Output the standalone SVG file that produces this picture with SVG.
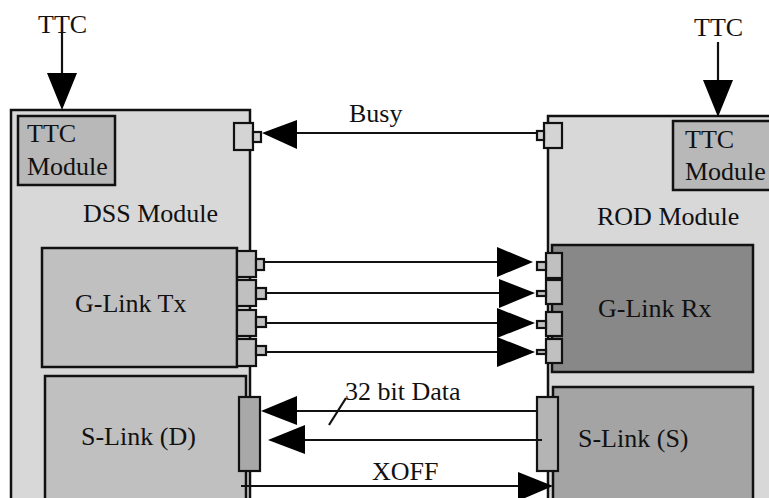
<svg xmlns="http://www.w3.org/2000/svg" width="769" height="498" viewBox="0 0 769 498">
  <style>
    .box { stroke: #111; stroke-width: 2.5; }
    .port { stroke: #111; stroke-width: 2.2; }
    .lbl { font-family: "Liberation Serif", "Times New Roman", serif; font-size: 26px; fill: #111; }
    .wire { stroke: #111; stroke-width: 2.2; fill: none; }
    .head { fill: #000; stroke: none; }
  </style>

  <rect width="769" height="498" fill="#fff"/>

  <!-- DSS crate and its contents -->
  <g id="dss-module">
    <rect class="box" x="11" y="110" width="239" height="400" fill="#d8d8d8"/>
    <text class="lbl" x="83" y="222">DSS Module</text>
  </g>
  <g id="dss-ttc">
    <rect class="box" x="18" y="116" width="97" height="69" fill="#b8b8b8"/>
    <text class="lbl" x="27" y="142">TTC</text>
    <text class="lbl" x="27" y="175">Module</text>
  </g>
  <g id="dss-busy-port">
    <rect class="port" x="234" y="123" width="19" height="27" fill="#d4d4d4"/>
    <rect class="port" x="253" y="132" width="8" height="10" fill="#d4d4d4"/>
  </g>
  <g id="glink-tx">
    <rect class="box" x="42" y="248" width="195" height="119" fill="#c0c0c0"/>
    <text class="lbl" x="75" y="312">G-Link Tx</text>
    <g fill="#c0c0c0">
      <rect class="port" x="237" y="251" width="19" height="26"/>
      <rect class="port" x="256" y="259" width="8" height="11"/>
      <rect class="port" x="237" y="280" width="19" height="26"/>
      <rect class="port" x="256" y="288" width="10" height="11"/>
      <rect class="port" x="237" y="310" width="19" height="26"/>
      <rect class="port" x="256" y="317" width="10" height="10"/>
      <rect class="port" x="237" y="339" width="19" height="27"/>
      <rect class="port" x="256" y="346" width="10" height="9"/>
    </g>
  </g>
  <g id="slink-d">
    <rect class="box" x="45" y="376" width="201" height="140" fill="#c0c0c0"/>
    <text class="lbl" x="81" y="445">S-Link (D)</text>
    <rect class="port" x="239" y="397" width="21" height="74" fill="#a8a8a8"/>
  </g>

  <!-- ROD crate and its contents -->
  <g id="rod-module">
    <rect class="box" x="548" y="116" width="240" height="400" fill="#d8d8d8"/>
    <text class="lbl" x="597" y="225">ROD Module</text>
  </g>
  <g id="rod-ttc">
    <rect class="box" x="673" y="121" width="110" height="69" fill="#b8b8b8"/>
    <text class="lbl" x="685" y="148">TTC</text>
    <text class="lbl" x="685" y="180">Module</text>
  </g>
  <g id="rod-busy-port">
    <rect class="port" x="544" y="123" width="18" height="25" fill="#d4d4d4"/>
    <rect class="port" x="537" y="131" width="7" height="9" fill="#d4d4d4"/>
  </g>
  <g id="glink-rx">
    <rect class="box" x="552" y="245" width="201" height="127" fill="#888888"/>
    <text class="lbl" x="598" y="317">G-Link Rx</text>
    <g fill="#c0c0c0">
      <rect class="port" x="546" y="253" width="16" height="25"/>
      <rect class="port" x="537" y="262" width="9" height="8"/>
      <rect class="port" x="546" y="280" width="16" height="24"/>
      <rect class="port" x="537" y="291" width="9" height="5"/>
      <rect class="port" x="546" y="312" width="16" height="24"/>
      <rect class="port" x="537" y="321" width="9" height="7"/>
      <rect class="port" x="546" y="339" width="16" height="24"/>
      <rect class="port" x="537" y="350" width="9" height="4"/>
    </g>
  </g>
  <g id="slink-s">
    <rect class="box" x="553" y="387" width="200" height="130" fill="#a4a4a4"/>
    <text class="lbl" x="578" y="447">S-Link (S)</text>
    <rect class="port" x="537" y="397" width="21" height="74" fill="#b4b4b4"/>
  </g>

  <!-- signal lines and arrowheads -->
  <g id="connectors">
    <line class="wire" x1="62" y1="32" x2="62" y2="74"/>
    <polygon class="head" points="47,73 77,73 62,110"/>
    <line class="wire" x1="718" y1="42" x2="718" y2="81"/>
    <polygon class="head" points="703,80 733,80 718,117"/>

    <line class="wire" x1="296" y1="133" x2="537" y2="133"/>
    <polygon class="head" points="262,133 297,120 297,149"/>

    <line class="wire" x1="264" y1="262" x2="498" y2="262"/>
    <polygon class="head" points="497,247 497,277 533,262"/>
    <line class="wire" x1="266" y1="293" x2="500" y2="293"/>
    <polygon class="head" points="499,279 499,308 535,293"/>
    <line class="wire" x1="266" y1="323" x2="498" y2="323"/>
    <polygon class="head" points="497,308 497,338 535,323"/>
    <line class="wire" x1="266" y1="352" x2="498" y2="352"/>
    <polygon class="head" points="497,337 497,367 535,352"/>

    <line class="wire" x1="296" y1="411" x2="537" y2="411"/>
    <polygon class="head" points="261,411 297,396 297,425"/>
    <line class="wire" x1="304" y1="440" x2="542" y2="440"/>
    <polygon class="head" points="268,440 305,425 305,454"/>
    <line class="wire" x1="346" y1="398" x2="329" y2="425"/>

    <line class="wire" x1="241" y1="486" x2="519" y2="486"/>
    <polygon class="head" points="518,472 518,501 553,486"/>
  </g>

  <!-- line labels -->
  <g id="labels">
    <text class="lbl" x="38" y="33">TTC</text>
    <text class="lbl" x="694" y="36">TTC</text>
    <text class="lbl" x="349" y="122">Busy</text>
    <text class="lbl" x="345" y="400">32 bit Data</text>
    <text class="lbl" x="372" y="480">XOFF</text>
  </g>
</svg>
